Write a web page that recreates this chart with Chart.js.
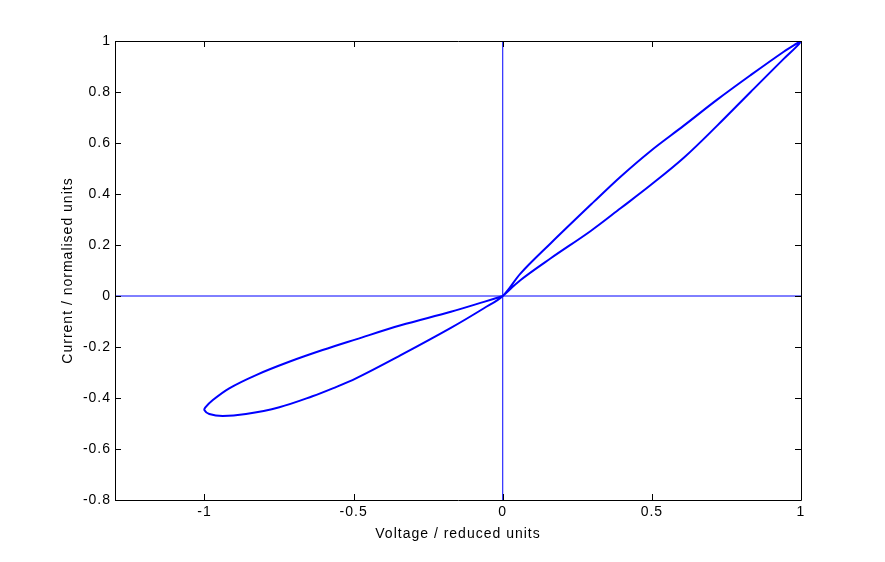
<!DOCTYPE html>
<html>
<head>
<meta charset="utf-8">
<script src="https://cdn.jsdelivr.net/npm/chart.js@4/dist/chart.umd.min.js"></script>
<style>
html,body{margin:0;padding:0;background:#fff;}
canvas{display:block;}
</style>
</head>
<body>
<canvas id="c" width="885" height="562"></canvas>
<script>
// ---- data ----
// Loop path: origin -> positive lower branch -> (1,1) -> positive upper branch -> origin
//            -> negative lower branch -> (-1,-0.45) -> negative upper branch -> origin
const loopX = [
  0, 0.06, 0.161, 0.295, 0.395, 0.496, 0.607, 0.719, 0.831, 0.942, 0.985, 1.0,
  0.985, 0.942, 0.831, 0.719, 0.607, 0.496, 0.395, 0.306, 0.161, 0.06, 0,
  -0.063, -0.174, -0.342, -0.492, -0.57, -0.638, -0.749, -0.861, -0.939, -0.984, -1.0,
  -0.997, -0.972, -0.917, -0.827, -0.716, -0.604, -0.492, -0.342, -0.174, -0.063, 0
];
const loopY = [
  0, 0.063, 0.148, 0.255, 0.344, 0.435, 0.542, 0.668, 0.800, 0.930, 0.978, 1.0,
  0.99, 0.958, 0.866, 0.770, 0.668, 0.569, 0.468, 0.370, 0.207, 0.089, 0,
  -0.048, -0.125, -0.232, -0.323, -0.362, -0.393, -0.436, -0.463, -0.471, -0.463, -0.448,
  -0.437, -0.408, -0.362, -0.310, -0.258, -0.212, -0.170, -0.115, -0.062, -0.023, 0
];
const hAxisX = [-1.3, 1];
const hAxisY = [0, 0];
const vAxisX = [0, 0];
const vAxisY = [-0.8, 1];

const xTickValues = [-1, -0.5, 0, 0.5, 1];
const xTickLabels = ['-1', '-0.5', '0', '0.5', '1'];
const yTickValues = [-0.8, -0.6, -0.4, -0.2, 0, 0.2, 0.4, 0.6, 0.8, 1];
const yTickLabels = ['-0.8', '-0.6', '-0.4', '-0.2', '0', '0.2', '0.4', '0.6', '0.8', '1'];

const xTitle = 'Voltage / reduced units';
const yTitle = 'Current / normalised units';

const toPts = (xs, ys) => xs.map((x, i) => ({x: x, y: ys[i]}));

const FONT = {family: '"Liberation Sans", Arial, Helvetica, sans-serif', size: 14};

const spacingPlugin = {
  id: 'spacing',
  beforeDraw(chart) { chart.ctx.letterSpacing = '1px'; }
};

const framePlugin = {
  id: 'frame',
  afterDraw(chart) {
    const {ctx, chartArea: a, scales} = chart;
    ctx.save();
    ctx.strokeStyle = '#000';
    ctx.lineWidth = 1;
    ctx.beginPath();
    ctx.rect(a.left + 0.5, a.top + 0.5, a.right - a.left, a.bottom - a.top);
    ctx.stroke();
    const L = 6;
    ctx.beginPath();
    xTickValues.forEach(v => {
      const px = Math.round(scales.x.getPixelForValue(v)) + 0.5;
      ctx.moveTo(px, a.bottom); ctx.lineTo(px, a.bottom - L);
      ctx.moveTo(px, a.top); ctx.lineTo(px, a.top + L);
    });
    yTickValues.forEach(v => {
      const py = Math.round(scales.y.getPixelForValue(v)) + 0.5;
      ctx.moveTo(a.left, py); ctx.lineTo(a.left + L, py);
      ctx.moveTo(a.right, py); ctx.lineTo(a.right - L, py);
    });
    ctx.stroke();
    ctx.restore();
  }
};

new Chart(document.getElementById('c'), {
  type: 'scatter',
  data: {
    datasets: [
      {data: toPts(hAxisX, hAxisY), showLine: true, borderColor: '#0000ff', borderWidth: 1, pointRadius: 0, tension: 0},
      {data: toPts(vAxisX, vAxisY), showLine: true, borderColor: '#0000ff', borderWidth: 1, pointRadius: 0, tension: 0},
      {data: toPts(loopX, loopY), showLine: true, borderColor: '#0000ff', borderWidth: 2, pointRadius: 0, tension: 0.35}
    ]
  },
  options: {
    responsive: false,
    animation: false,
    devicePixelRatio: 1,
    layout: {padding: {top: 41, right: 84, left: 0, bottom: 0}},
    plugins: {legend: {display: false}, tooltip: {enabled: false}},
    scales: {
      x: {
        type: 'linear', min: -1.3, max: 1,
        afterBuildTicks: s => { s.ticks = xTickValues.map(v => ({value: v})); },
        afterFit: s => { s.height = 62; },
        grid: {display: false, drawTicks: false},
        border: {display: false},
        ticks: {
          padding: 4, color: '#000', font: FONT, maxRotation: 0, autoSkip: false,
          callback: (v, i) => xTickLabels[i]
        },
        title: {display: true, text: xTitle, color: '#000', font: FONT, padding: {top: 0, bottom: 19}}
      },
      y: {
        type: 'linear', min: -0.8, max: 1,
        afterBuildTicks: s => { s.ticks = yTickValues.map(v => ({value: v})); },
        afterFit: s => { s.width = 115; },
        grid: {display: false, drawTicks: false},
        border: {display: false},
        ticks: {
          padding: 4, color: '#000', font: FONT, autoSkip: false,
          callback: (v, i) => yTickLabels[i]
        },
        title: {display: true, text: yTitle, color: '#000', font: FONT, padding: {top: 60, bottom: 0}}
      }
    }
  },
  plugins: [spacingPlugin, framePlugin]
});
</script>
</body>
</html>
